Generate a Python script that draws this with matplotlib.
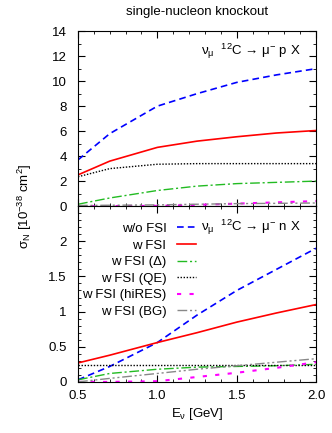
"""Single-nucleon knockout cross sections, nu_mu 12C -> mu- p X / mu- n X."""

import matplotlib
matplotlib.use("Agg")
import matplotlib.pyplot as plt
from matplotlib.ticker import MultipleLocator

plt.rcParams["font.family"] = ["Liberation Sans", "DejaVu Sans"]
plt.rcParams["mathtext.fontset"] = "custom"
plt.rcParams["mathtext.rm"] = "Liberation Sans"
plt.rcParams["mathtext.it"] = "Liberation Sans"
plt.rcParams["mathtext.default"] = "rm"

FS = 9.5

energy = [0.5, 0.7, 1.0, 1.25, 1.5, 1.75, 2.0]

# proton knockout (upper panel)
p_nofsi = [3.7, 5.8, 8.0, 9.0, 9.9, 10.5, 11.0]
p_fsi = [2.5, 3.6, 4.7, 5.2, 5.55, 5.85, 6.05]
p_delta = [0.15, 0.65, 1.25, 1.6, 1.8, 1.9, 2.0]
p_qe = [2.35, 3.0, 3.35, 3.4, 3.4, 3.4, 3.4]
p_hires = [0.0, 0.0, 0.02, 0.1, 0.2, 0.3, 0.4]
p_bg = [0.05, 0.07, 0.1, 0.15, 0.2, 0.22, 0.25]

# neutron knockout (lower panel)
n_nofsi = [0.03, 0.22, 0.56, 0.95, 1.3, 1.6, 1.9]
n_fsi = [0.27, 0.38, 0.56, 0.7, 0.85, 0.98, 1.1]
n_delta = [0.03, 0.12, 0.18, 0.21, 0.22, 0.23, 0.25]
n_qe = [0.245, 0.245, 0.245, 0.245, 0.245, 0.245, 0.245]
n_hires = [0.0, 0.0, 0.01, 0.07, 0.13, 0.2, 0.28]
n_bg = [0.0, 0.05, 0.12, 0.18, 0.23, 0.28, 0.33]

labels = ["w/o FSI", "w FSI", "w FSI (Δ)", "w FSI (QE)",
          "w FSI (hiRES)", "w FSI (BG)"]
styles = [
    dict(color="#0000ff", ls=(0, (4, 2.5)), lw=1.2),
    dict(color="#ff0000", ls="-", lw=1.2),
    dict(color="#22bb22", ls=(0, (7, 2, 1.5, 2)), lw=1.0),
    dict(color="#000000", ls=(0, (1, 1.2)), lw=1.0),
    dict(color="#ff00ff", ls=(0, (2, 4)), lw=1.5),
    dict(color="#888888", ls=(0, (7, 2, 1.5, 2, 1.5, 2)), lw=1.0),
]

fig = plt.figure(figsize=(3.32, 4.33), dpi=100)
ax_top = fig.add_axes([0.235, 0.524, 0.717, 0.404])
ax_bot = fig.add_axes([0.235, 0.118, 0.717, 0.406])

top_series = [p_nofsi, p_fsi, p_delta, p_qe, p_hires, p_bg]
bot_series = [n_nofsi, n_fsi, n_delta, n_qe, n_hires, n_bg]

for ys, st in zip(top_series, styles):
    ax_top.plot(energy, ys, **st)
for ys, st, lab in zip(bot_series, styles, labels):
    ax_bot.plot(energy, ys, label=lab, **st)

for ax in (ax_top, ax_bot):
    ax.set_xlim(0.5, 2.0)
    ax.xaxis.set_major_locator(MultipleLocator(0.5))
    ax.xaxis.set_minor_locator(MultipleLocator(0.1))
    ax.tick_params(which="both", direction="in", top=True, right=True,
                   labelsize=FS)
    ax.tick_params(which="major", length=5)
    ax.tick_params(which="minor", length=2.5)
    ax.tick_params(axis="x", pad=6)
    ax.tick_params(axis="y", pad=8)

ax_top.set_ylim(0, 14)
ax_top.yaxis.set_major_locator(MultipleLocator(2))
ax_top.yaxis.set_minor_locator(MultipleLocator(1))
ax_top.tick_params(labelbottom=False)

ax_bot.set_ylim(0, 2.5)
ax_bot.set_yticks([0, 0.5, 1, 1.5, 2])
ax_bot.set_yticklabels(["0", "0.5", "1", "1.5", "2"])
ax_bot.yaxis.set_minor_locator(MultipleLocator(0.1))

ax_top.text(0.935, 0.885, r"$\nu_\mu$  $^{12}$C → μ$^{-}$ p X",
            transform=ax_top.transAxes, ha="right", va="center", fontsize=FS)
ax_bot.text(0.935, 0.88, r"$\nu_\mu$  $^{12}$C → μ$^{-}$ n X",
            transform=ax_bot.transAxes, ha="right", va="center", fontsize=FS)

leg = ax_bot.legend(loc="upper right", bbox_to_anchor=(0.496, 0.905),
                    frameon=False, markerfirst=False, fontsize=FS,
                    handlelength=1.45, labelspacing=0.33, borderaxespad=0,
                    borderpad=0, handletextpad=0.8)
for col in leg._legend_handle_box.get_children():
    col.align = "right"

ax_bot.set_xlabel(r"E$_\nu$ [GeV]", fontsize=FS, labelpad=3)
fig.text(0.075, 0.524, r"σ$_N$ [10$^{-38}$ cm$^2$]", rotation=90,
         ha="center", va="center", fontsize=FS)
fig.text(0.594, 0.972, "single-nucleon knockout", ha="center", va="center",
         fontsize=FS)

fig.savefig("out.png", dpi=100)
